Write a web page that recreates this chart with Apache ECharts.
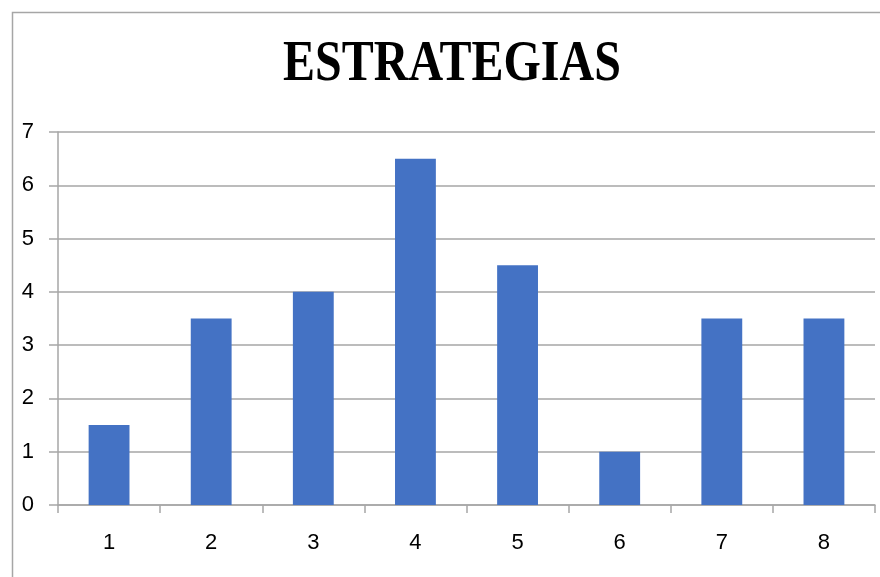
<!DOCTYPE html>
<html>
<head>
<meta charset="utf-8">
<script src="https://cdn.jsdelivr.net/npm/echarts@6/dist/echarts.min.js"></script>
<style>
  html, body { margin: 0; padding: 0; background: #ffffff; }
  #chart { width: 880px; height: 577px; }
</style>
</head>
<body>
<div id="chart"></div>
<script>
// Chart content
const chartTitle = 'ESTRATEGIAS';
const categories = ['1', '2', '3', '4', '5', '6', '7', '8'];
const values = [1.5, 3.5, 4, 6.5, 4.5, 1, 3.5, 3.5];
const yTicks = [0, 1, 2, 3, 4, 5, 6, 7];

const labelFont = '"Liberation Sans", "Noto Sans", sans-serif';

const chart = echarts.init(document.getElementById('chart'), null, { renderer: 'canvas' });

const option = {
  animation: false,
  backgroundColor: '#ffffff',
  graphic: [
    {
      type: 'rect',
      left: 10, top: 10,
      shape: { width: 900, height: 600 },
      style: { fill: 'none', stroke: '#a6a6a6', lineWidth: 1.5 },
      z: 0
    },
    {
      type: 'text',
      left: 283,
      top: 36,
      style: {
        text: chartTitle,
        font: 'bold 48px "Liberation Serif", "Times New Roman", serif',
        fill: '#000000'
      },
      scaleY: 1.2
    }
  ],
  grid: { left: 58, right: 5, top: 132, bottom: 72, containLabel: false },
  xAxis: {
    type: 'category',
    data: categories,
    axisLine: { show: true, lineStyle: { color: '#a6a6a6', width: 1.5 } },
    axisTick: { show: true, alignWithLabel: false, length: 8, lineStyle: { color: '#a6a6a6', width: 1.5 } },
    axisLabel: { color: '#000000', fontSize: 22, fontFamily: labelFont, margin: 27 }
  },
  yAxis: {
    type: 'value',
    min: yTicks[0],
    max: yTicks[yTicks.length - 1],
    interval: 1,
    axisLine: { show: true, lineStyle: { color: '#a6a6a6', width: 1.5 } },
    axisTick: { show: true, inside: false, length: 9, lineStyle: { color: '#a6a6a6', width: 1.5 } },
    splitLine: { show: true, lineStyle: { color: '#a6a6a6', width: 1.5 } },
    axisLabel: { color: '#000000', fontSize: 22, fontFamily: labelFont, margin: 24 }
  },
  series: [{
    type: 'bar',
    data: values,
    barCategoryGap: '60%',
    itemStyle: { color: '#4472c4' }
  }]
};

chart.setOption(option);
</script>
</body>
</html>
